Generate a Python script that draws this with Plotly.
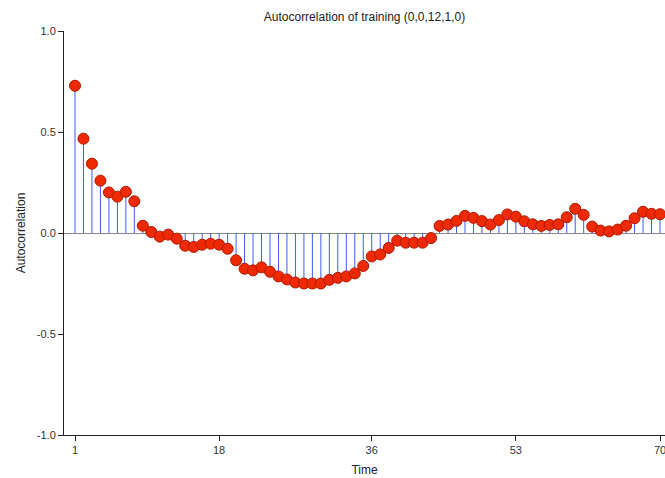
import plotly.graph_objects as go

lags = list(range(1, 71))
acf = [0.729, 0.467, 0.343, 0.259, 0.201, 0.180, 0.204, 0.157, 0.036, 0.005,
       -0.018, -0.008, -0.028, -0.063, -0.069, -0.058, -0.053, -0.058, -0.078, -0.135,
       -0.177, -0.185, -0.170, -0.192, -0.215, -0.230, -0.245, -0.250, -0.250, -0.250,
       -0.232, -0.222, -0.215, -0.200, -0.163, -0.116, -0.106, -0.074, -0.038, -0.048,
       -0.048, -0.048, -0.025, 0.035, 0.042, 0.060, 0.085, 0.075, 0.059, 0.042,
       0.064, 0.092, 0.081, 0.058, 0.043, 0.035, 0.040, 0.043, 0.078, 0.120,
       0.090, 0.032, 0.012, 0.008, 0.017, 0.036, 0.073, 0.105, 0.095, 0.093]
x_ticks = [1, 18, 36, 53, 70]
y_ticks = [-1.0, -0.5, 0.0, 0.5, 1.0]
y_tick_labels = ["-1.0", "-0.5", "0.0", "0.5", "1.0"]

sx, sy = [], []
for l, v in zip(lags, acf):
    sx += [l, l, None]
    sy += [0, v, None]

fig = go.Figure()
fig.add_trace(go.Scatter(x=sx, y=sy, mode="lines",
                         line=dict(color="#3a5cff", width=1),
                         hoverinfo="skip", showlegend=False))
fig.add_trace(go.Scatter(x=lags, y=acf, mode="markers", cliponaxis=False,
                         marker=dict(color="#f02a00", size=11,
                                     line=dict(color="#b01800", width=1)),
                         showlegend=False))

font = "Liberation Sans, Arial, sans-serif"
fig.update_layout(
    width=665, height=478,
    margin=dict(l=64, r=0, t=31, b=43),
    plot_bgcolor="white", paper_bgcolor="white",
    font=dict(family=font, size=11, color="#333"),
    title=dict(text="Autocorrelation of training (0,0,12,1,0)",
               x=0.5, xref="paper", xanchor="center",
               y=0.964, yref="container", yanchor="middle",
               font=dict(size=12, color="#222")),
    xaxis=dict(range=[-0.297, 70.59], tickvals=x_ticks,
               ticktext=[str(t) for t in x_ticks],
               ticklabeloverflow="allow",
               showgrid=False, zeroline=False,
               showline=True, linecolor="#222", linewidth=1,
               ticks="outside", ticklen=5, tickcolor="#222",
               title=dict(text="Time", font=dict(size=12, color="#222"), standoff=10)),
    yaxis=dict(range=[-1, 1], tickvals=y_ticks, ticktext=y_tick_labels,
               showgrid=False, zeroline=True, zerolinecolor="#888", zerolinewidth=1,
               showline=True, linecolor="#222", linewidth=1,
               ticks="outside", ticklen=5, tickcolor="#222",
               title=dict(text="Autocorrelation", font=dict(size=12, color="#222"), standoff=8)),
)
fig.write_html("out.html",
               config={"displayModeBar": False},
               post_script="document.body.style.margin='0';document.body.style.overflow='hidden';")
